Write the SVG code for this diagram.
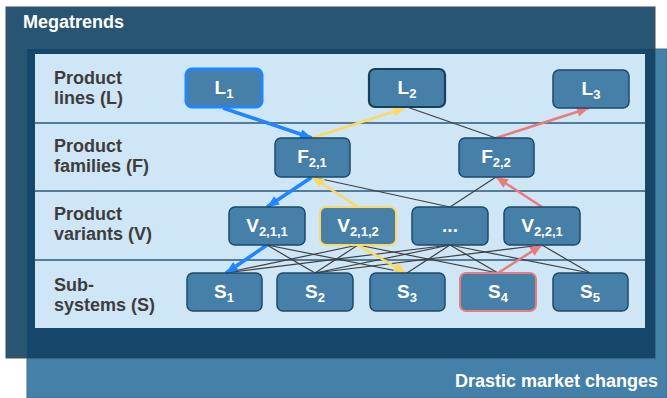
<svg xmlns="http://www.w3.org/2000/svg" width="667" height="398" viewBox="0 0 667 398">
<defs>
<style>
.lbl{font-family:"Liberation Sans",Arial,sans-serif;font-weight:bold;font-size:18px;fill:#3d3d3d}
.ttl{font-family:"Liberation Sans",Arial,sans-serif;font-weight:bold;font-size:18px;fill:#ffffff}
.node rect{fill:#4680a8;stroke:#1c4a68;stroke-width:1.5}
.node text{font-family:"Liberation Sans",Arial,sans-serif;font-weight:bold;font-size:19px;fill:#ffffff;text-anchor:middle}
.sub{font-size:13px}
.sep{stroke:#2a5a78;stroke-width:1.5}
.thin{stroke:#3f3f3f;stroke-width:1.2;fill:none}
.blue{stroke:#1f86ff;stroke-width:3.5;fill:none}
.yel{stroke:#ffd763;stroke-width:2.5;fill:none}
.pink{stroke:#eb7b7b;stroke-width:2.5;fill:none}
</style>
<marker id="mb" viewBox="0 0 12 10" refX="12" refY="5" markerWidth="13" markerHeight="10" markerUnits="userSpaceOnUse" orient="auto"><path d="M0,0 L12,5 L0,10 Z" fill="#1f86ff"/></marker>
<marker id="my" viewBox="0 0 12 10" refX="12" refY="5" markerWidth="13" markerHeight="10" markerUnits="userSpaceOnUse" orient="auto"><path d="M0,0 L12,5 L0,10 Z" fill="#ffd763"/></marker>
<marker id="mp" viewBox="0 0 12 10" refX="12" refY="5" markerWidth="13" markerHeight="10" markerUnits="userSpaceOnUse" orient="auto"><path d="M0,0 L12,5 L0,10 Z" fill="#eb7b7b"/></marker>
</defs>
<rect width="667" height="398" fill="#ffffff"/>
<g id="drastic">
<rect x="27" y="49" width="640" height="349" fill="#4580a8" stroke="#3a6f94" stroke-width="1"/>
<text class="ttl" x="658" y="387" text-anchor="end">Drastic market changes</text>
</g>
<g id="megatrends">
<rect x="6" y="7" width="649" height="351" fill="#285672" stroke="#3d4f5c" stroke-width="1"/>
<rect x="27" y="49" width="628" height="309" fill="#16476a"/>
<text class="ttl" x="23" y="28">Megatrends</text>
</g>
<g id="panel">
<rect x="35" y="54" width="610" height="274" fill="#cfe6f6"/>
<line class="sep" x1="35" y1="123" x2="645" y2="123"/>
<line class="sep" x1="35" y1="191" x2="645" y2="191"/>
<line class="sep" x1="35" y1="260" x2="645" y2="260"/>
<text class="lbl" x="54" y="84">Product</text>
<text class="lbl" x="54" y="104">lines (L)</text>
<text class="lbl" x="54" y="152">Product</text>
<text class="lbl" x="54" y="172">families (F)</text>
<text class="lbl" x="54" y="220">Product</text>
<text class="lbl" x="54" y="240">variants (V)</text>
<text class="lbl" x="54" y="291">Sub-</text>
<text class="lbl" x="54" y="311">systems (S)</text>
</g>
<g id="connectors">
<line class="thin" x1="407" y1="107" x2="496" y2="138"/>
<line class="thin" x1="312" y1="177" x2="450" y2="207"/>
<line class="thin" x1="496" y1="177" x2="450" y2="207"/>
<line class="thin" x1="267" y1="245" x2="315" y2="273"/>
<line class="thin" x1="267" y1="245" x2="407" y2="273"/>
<line class="thin" x1="358" y1="245" x2="225" y2="273"/>
<line class="thin" x1="358" y1="245" x2="315" y2="273"/>
<line class="thin" x1="358" y1="245" x2="498" y2="273"/>
<line class="thin" x1="450" y1="245" x2="225" y2="273"/>
<line class="thin" x1="450" y1="245" x2="315" y2="273"/>
<line class="thin" x1="450" y1="245" x2="407" y2="273"/>
<line class="thin" x1="450" y1="245" x2="498" y2="273"/>
<line class="thin" x1="450" y1="245" x2="590" y2="273"/>
<line class="thin" x1="542" y1="245" x2="315" y2="273"/>
<line class="thin" x1="542" y1="245" x2="590" y2="273"/>
<line class="blue" x1="223" y1="108" x2="312" y2="138" marker-end="url(#mb)"/>
<line class="yel" x1="312" y1="138" x2="405" y2="108" marker-end="url(#my)"/>
<line class="pink" x1="496" y1="138" x2="589" y2="108" marker-end="url(#mp)"/>
<line class="blue" x1="312" y1="177" x2="267" y2="207" marker-end="url(#mb)"/>
<line class="yel" x1="358" y1="207" x2="312" y2="177" marker-end="url(#my)"/>
<line class="pink" x1="542" y1="207" x2="496" y2="177" marker-end="url(#mp)"/>
<line class="blue" x1="267" y1="245" x2="226" y2="273" marker-end="url(#mb)"/>
<line class="yel" x1="358" y1="245" x2="406" y2="273" marker-end="url(#my)"/>
<line class="pink" x1="498" y1="273" x2="542" y2="245" marker-end="url(#mp)"/>
</g>
<g id="L1" class="node"><rect x="186" y="69" width="76" height="38" rx="6" style="stroke:#1f86ff;stroke-width:3"/><text x="224" y="94">L<tspan class="sub" dy="4">1</tspan></text></g>
<g id="L2" class="node"><rect x="369" y="69" width="76" height="38" rx="6" style="stroke:#163f5a;stroke-width:2.2"/><text x="407" y="94">L<tspan class="sub" dy="4">2</tspan></text></g>
<g id="L3" class="node"><rect x="553" y="70" width="76" height="38" rx="6"/><text x="591" y="95">L<tspan class="sub" dy="4">3</tspan></text></g>
<g id="F21" class="node"><rect x="275" y="138" width="75" height="39" rx="6"/><text x="312" y="163">F<tspan class="sub" dy="4">2,1</tspan></text></g>
<g id="F22" class="node"><rect x="459" y="138" width="75" height="39" rx="6"/><text x="496" y="163">F<tspan class="sub" dy="4">2,2</tspan></text></g>
<g id="V211" class="node"><rect x="229" y="207" width="76" height="38" rx="6"/><text x="267" y="232">V<tspan class="sub" dy="4">2,1,1</tspan></text></g>
<g id="V212" class="node"><rect x="320" y="207" width="76" height="38" rx="6" style="stroke:#ffd763;stroke-width:2"/><text x="358" y="232">V<tspan class="sub" dy="4">2,1,2</tspan></text></g>
<g id="Vdots" class="node"><rect x="412" y="207" width="76" height="38" rx="6"/><text x="450" y="232">...</text></g>
<g id="V221" class="node"><rect x="504" y="207" width="76" height="38" rx="6"/><text x="542" y="232">V<tspan class="sub" dy="4">2,2,1</tspan></text></g>
<g id="S1" class="node"><rect x="187" y="273" width="75" height="38" rx="6"/><text x="224" y="298">S<tspan class="sub" dy="4">1</tspan></text></g>
<g id="S2" class="node"><rect x="277" y="273" width="76" height="38" rx="6"/><text x="315" y="298">S<tspan class="sub" dy="4">2</tspan></text></g>
<g id="S3" class="node"><rect x="370" y="273" width="75" height="38" rx="6"/><text x="407" y="298">S<tspan class="sub" dy="4">3</tspan></text></g>
<g id="S4" class="node"><rect x="460" y="273" width="76" height="38" rx="6" style="stroke:#eb7b7b;stroke-width:2"/><text x="498" y="298">S<tspan class="sub" dy="4">4</tspan></text></g>
<g id="S5" class="node"><rect x="553" y="273" width="75" height="38" rx="6"/><text x="590" y="298">S<tspan class="sub" dy="4">5</tspan></text></g>
</svg>
